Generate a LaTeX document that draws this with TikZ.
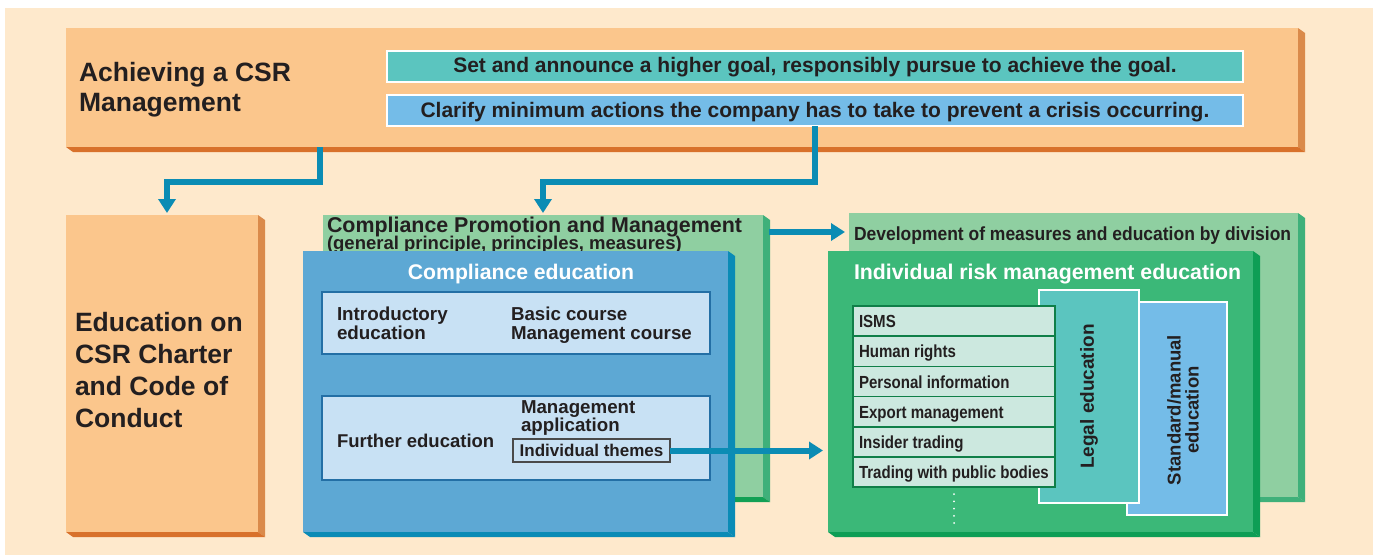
\documentclass[tikz,border=0pt]{standalone}
\usepackage{fontspec}
\setmainfont{Liberation Sans}
\newfontfamily\condfont[FakeStretch=0.86]{Liberation Sans}
\newfontfamily\widecondfont[FakeStretch=0.92]{Liberation Sans}
\usepackage{xcolor}
\usepackage{tikz}
\usetikzlibrary{arrows.meta}

\definecolor{cream}{HTML}{FEE9CC}
\definecolor{peach}{HTML}{FBC68C}
\definecolor{peachside}{HTML}{DA8A4A}
\definecolor{peachdark}{HTML}{D8712B}
\definecolor{tealband}{HTML}{5BC5BF}
\definecolor{skyband}{HTML}{74BCE8}
\definecolor{arrowblue}{HTML}{0B8CB4}
\definecolor{mint}{HTML}{8FCFA1}
\definecolor{mintside}{HTML}{3FB07A}
\definecolor{mintdark}{HTML}{12A055}
\definecolor{ocean}{HTML}{5DA8D4}
\definecolor{oceanside}{HTML}{0A8BB6}
\definecolor{frost}{HTML}{C8E1F4}
\definecolor{frostline}{HTML}{236FA5}
\definecolor{themeline}{HTML}{4A4A4A}
\definecolor{leaf}{HTML}{3BB878}
\definecolor{leafside}{HTML}{0E9E55}
\definecolor{pale}{HTML}{CCE8DF}
\definecolor{pine}{HTML}{0F7F48}
\definecolor{ink}{HTML}{231F20}

\newcommand{\fs}[2]{\fontsize{#1}{#2}\selectfont}
% right and bottom faces of a raised box
\newcommand{\sides}[3]{%
  \fill[#2] (#1.north east) -- ++(7,5) -- ([shift={(7,5)}]#1.south east) -- (#1.south east) -- cycle;
  \fill[#3] (#1.south west) -- (#1.south east) -- ([shift={(7,5)}]#1.south east) -- ([shift={(7,5)}]#1.south west) -- cycle;}

\begin{document}
\begin{tikzpicture}[x=1pt, y=-1pt,
    every node/.style={text=ink, inner sep=0pt, outer sep=0pt},
    slab/.style 2 args={anchor=north west, minimum width=#1, minimum height=#2},
    band/.style={draw=white, line width=1.2pt, minimum width=856, minimum height=31, font=\bfseries\fs{21}{25}},
    risk/.style={anchor=north west, minimum width=202, minimum height=30.2, inner xsep=6pt,
      text height=13, text depth=0, fill=pale, draw=pine, line width=1.5pt, font=\condfont\bfseries\fs{17.5}{17.5}},
    flow/.style={draw=arrowblue, line width=6pt, -{Triangle[length=14pt,width=17pt]}}]
  % background
  \fill[cream] (5,8) rectangle (1373,555);
  \useasboundingbox (0,0) rectangle (1373,555);

  % Achieving a CSR Management
  \node[slab={1232}{119}, fill=peach] (csr) at (66,28) {};
  \sides{csr}{peachside}{peachdark}
  \node[anchor=north west, align=left, font=\bfseries\fs{26.5}{30}] (csrtitle) at (79,62) {Achieving a CSR\\Management};
  \node[band, fill=tealband, text height=15.3, text depth=3] (goal) at (815,66.5) {Set and announce a higher goal, responsibly pursue to achieve the goal.};
  \node[band, fill=skyband, text height=15.3, text depth=1] (crisis) at (815,110.5) {Clarify minimum actions the company has to take to prevent a crisis occurring.};

  % Education on CSR Charter
  \node[slab={192}{317}, fill=peach] (edu) at (66,215) {};
  \sides{edu}{peachside}{peachdark}
  \node[anchor=north west, align=left, font=\bfseries\fs{26.5}{32}] (edutext) at (75,312) {Education on\\CSR Charter\\and Code of\\Conduct};

  % Compliance promotion (back) and compliance education (front)
  \node[slab={440}{282}, fill=mint] (cpm) at (323,215) {};
  \sides{cpm}{mintside}{mintdark}
  \node[anchor=base west, font=\bfseries\fs{21.4}{21}] (cpmtitle) at (327,232) {Compliance Promotion and Management};
  \node[anchor=base west, font=\bfseries\fs{18.5}{18.5}] (cpmsub) at (327,249) {(general principle, principles, measures)};

  \node[slab={425}{281}, fill=ocean] (ce) at (303,251) {};
  \sides{ce}{oceanside}{oceanside}
  \node[anchor=base, text=white, font=\bfseries\fs{21.2}{21}] (cetitle) at (521,279) {Compliance education};

  \node[slab={388}{62}, fill=frost, draw=frostline, line width=1.5pt] (intro) at (322,292) {};
  \node[anchor=north west, align=left, font=\bfseries\fs{18.8}{19}] (introtext) at (337,307) {Introductory\\education};
  \node[anchor=north west, align=left, font=\bfseries\fs{18.7}{19}] (courses) at (511,307) {Basic course\\Management course};

  \node[slab={388}{84}, fill=frost, draw=frostline, line width=1.5pt] (further) at (322,396) {};
  \node[anchor=base west, font=\bfseries\fs{18.5}{19}] (furthertext) at (337,447) {Further education};
  \node[anchor=north west, align=left, font=\bfseries\fs{18.7}{18}] (mgmtapp) at (521,401) {Management\\application};
  \node[slab={157}{23}, fill=frost, draw=themeline, line width=1.2pt, font=\bfseries\fs{17}{17}] (themes) at (513,439) {Individual themes};

  % Development by division (back) and individual risk management (front)
  \node[slab={449}{284}, fill=mint] (dev) at (849,213) {};
  \sides{dev}{mintside}{mintside}
  \node[anchor=base west, font=\widecondfont\bfseries\fs{19}{19}] (devtitle) at (854,240) {Development of measures and education by division};

  \node[slab={425}{281}, fill=leaf] (irm) at (828,251) {};
  \sides{irm}{leafside}{leafside}
  \node[anchor=base west, text=white, font=\bfseries\fs{21.3}{21}] (irmtitle) at (854,279) {Individual risk management education};

  \node[slab={100}{213}, fill=skyband, draw=white, line width=1.5pt] (std) at (1127,302) {};
  \node[rotate=90, align=center, font=\bfseries\fs{18.5}{18}] (stdtext) at (1183,410) {Standard/manual\\education};
  \node[slab={100}{213}, fill=tealband, draw=white, line width=1.5pt] (legal) at (1039,290) {};
  \node[rotate=90, font=\bfseries\fs{19}{19}] (legaltext) at (legal.center) {Legal education};

  % risk topics
  \foreach \topic [count=\i from 0] in {ISMS, Human rights, Personal information, Export management, Insider trading, Trading with public bodies}
    \node[risk] (risk\i) at ({853},{306+30.2*\i}) {\makebox[190pt][l]{\topic}};
  \draw[white, line width=2pt, line cap=round, dash pattern=on 0pt off 7.2pt] (risk5.south) ++(0,7) -- ++(0,30);

  % arrows
  \coordinate (k1) at (320,182);
  \coordinate (k2) at (815,182);
  \coordinate (k3) at (769,232);
  \draw[flow, shorten >=2pt] (csr.south -| k1) -- (k1) -| ([xshift=5]edu.north);
  \draw[flow, shorten >=2pt] (crisis.south -| k2) -- (k2) -| (cpm.north);
  \draw[flow, shorten >=4pt] (k3) -- (k3 -| dev.west);
  \draw[flow, shorten >=5pt] (themes.east) -- (themes.east -| irm.west);
\end{tikzpicture}
\end{document}
